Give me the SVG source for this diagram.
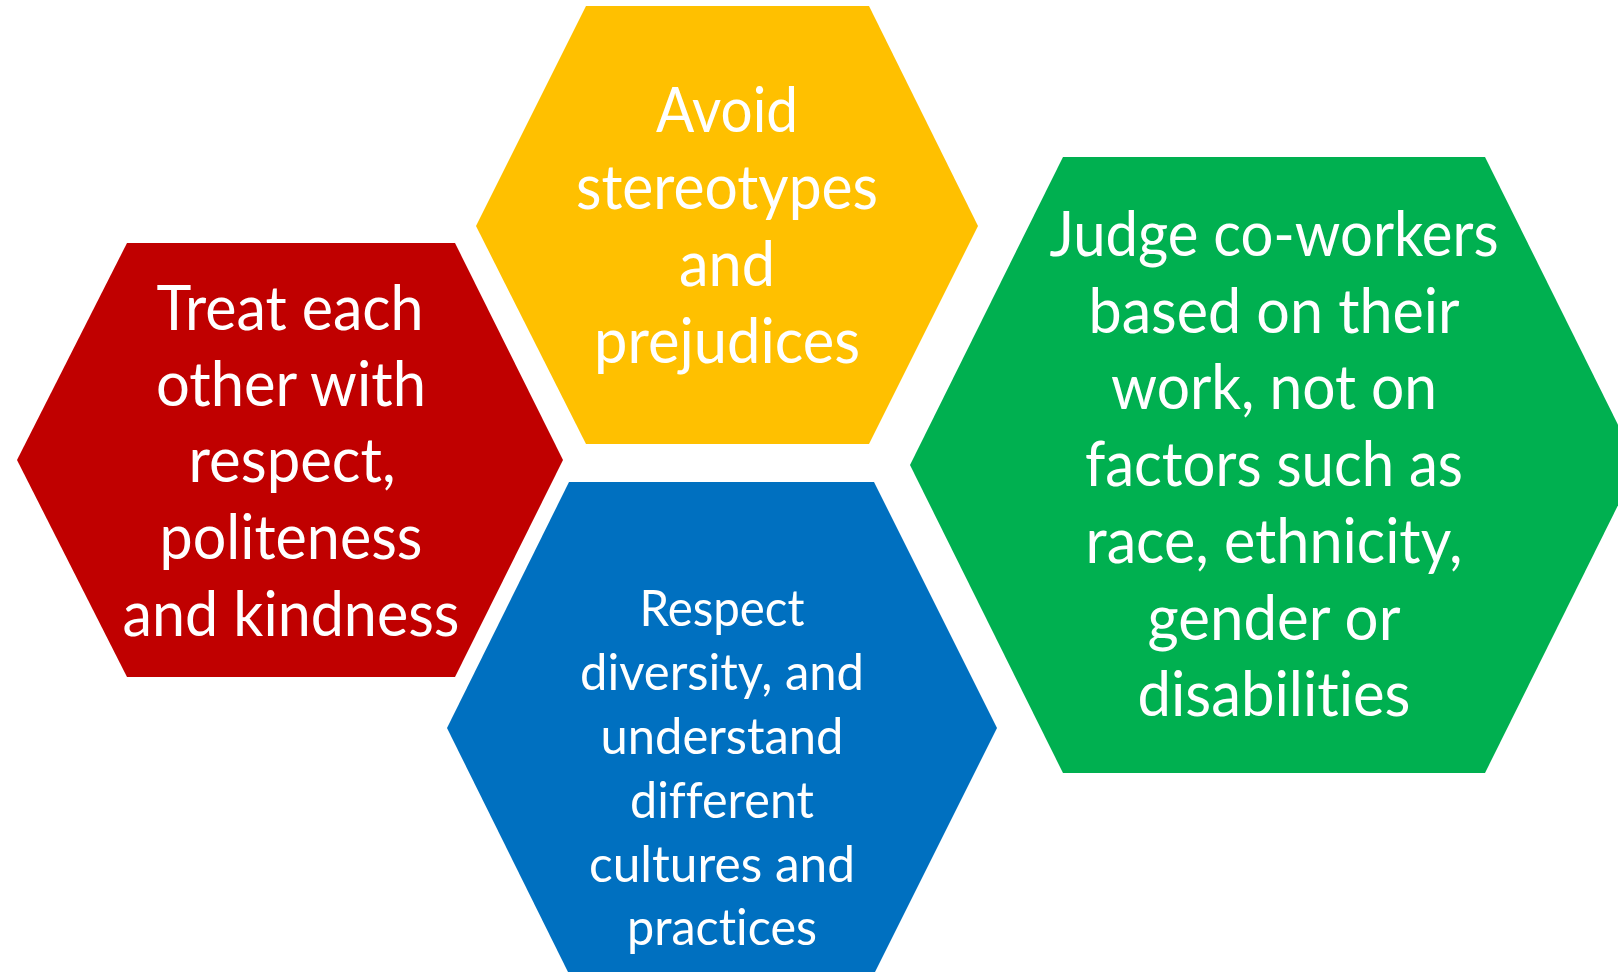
<svg xmlns="http://www.w3.org/2000/svg" width="1618" height="972" viewBox="0 0 1618 972">
  <style>
    text { font-family: Lato, "Open Sans", sans-serif; fill: #FFFFFF; text-anchor: middle; font-variant-ligatures: none; }
    .big { font-size: 61px; }
    .small { font-size: 50px; }
  </style>
  <rect width="1618" height="972" fill="#FFFFFF"/>

  <!-- left hexagon -->
  <g id="node-red">
    <polygon points="17,460 127,243 455,243 563,460 455,677 127,677" fill="#C00000"/>
    <text class="big" x="290" y="330" textLength="267" lengthAdjust="spacingAndGlyphs">Treat each</text>
    <text class="big" x="291" y="406" textLength="270" lengthAdjust="spacingAndGlyphs">other with</text>
    <text class="big" x="292" y="482" textLength="207" lengthAdjust="spacingAndGlyphs">respect,</text>
    <text class="big" x="291" y="559" textLength="263" lengthAdjust="spacingAndGlyphs">politeness</text>
    <text class="big" x="291" y="636" textLength="337" lengthAdjust="spacingAndGlyphs">and kindness</text>
  </g>

  <!-- top hexagon -->
  <g id="node-yellow">
    <polygon points="476,226 586,6 869,6 978,226 869,444 586,444" fill="#FFC000"/>
    <text class="big" x="727" y="132" textLength="142" lengthAdjust="spacingAndGlyphs">Avoid</text>
    <text class="big" x="727" y="209" textLength="302" lengthAdjust="spacingAndGlyphs">stereotypes</text>
    <text class="big" x="727" y="286" textLength="96" lengthAdjust="spacingAndGlyphs">and</text>
    <text class="big" x="727" y="363" textLength="266" lengthAdjust="spacingAndGlyphs">prejudices</text>
  </g>

  <!-- bottom hexagon, runs past the lower edge -->
  <g id="node-blue">
    <polygon points="447,728 569,482 874,482 997,728 874,974 569,974" fill="#0070C0"/>
    <text class="small" x="722" y="626" textLength="165" lengthAdjust="spacingAndGlyphs">Respect</text>
    <text class="small" x="722" y="690" textLength="284" lengthAdjust="spacingAndGlyphs">diversity, and</text>
    <text class="small" x="722" y="754" textLength="243" lengthAdjust="spacingAndGlyphs">understand</text>
    <text class="small" x="722" y="818" textLength="184" lengthAdjust="spacingAndGlyphs">different</text>
    <text class="small" x="722" y="882" textLength="266" lengthAdjust="spacingAndGlyphs">cultures and</text>
    <text class="small" x="722" y="945" textLength="190" lengthAdjust="spacingAndGlyphs">practices</text>
  </g>

  <!-- right hexagon, runs past the right edge -->
  <g id="node-green">
    <polygon points="910,465 1063,157 1485,157 1638,465 1485,773 1063,773" fill="#00B050"/>
    <text class="big" x="1274" y="256" textLength="449" lengthAdjust="spacingAndGlyphs">Judge co-workers</text>
    <text class="big" x="1274" y="333" textLength="371" lengthAdjust="spacingAndGlyphs">based on their</text>
    <text class="big" x="1274" y="409" textLength="326" lengthAdjust="spacingAndGlyphs">work, not on</text>
    <text class="big" x="1274" y="486" textLength="378" lengthAdjust="spacingAndGlyphs">factors such as</text>
    <text class="big" x="1274" y="563" textLength="377" lengthAdjust="spacingAndGlyphs">race, ethnicity,</text>
    <text class="big" x="1274" y="640" textLength="253" lengthAdjust="spacingAndGlyphs">gender or</text>
    <text class="big" x="1274" y="716" textLength="273" lengthAdjust="spacingAndGlyphs">disabilities</text>
  </g>

  <g id="connectors"/>
</svg>
